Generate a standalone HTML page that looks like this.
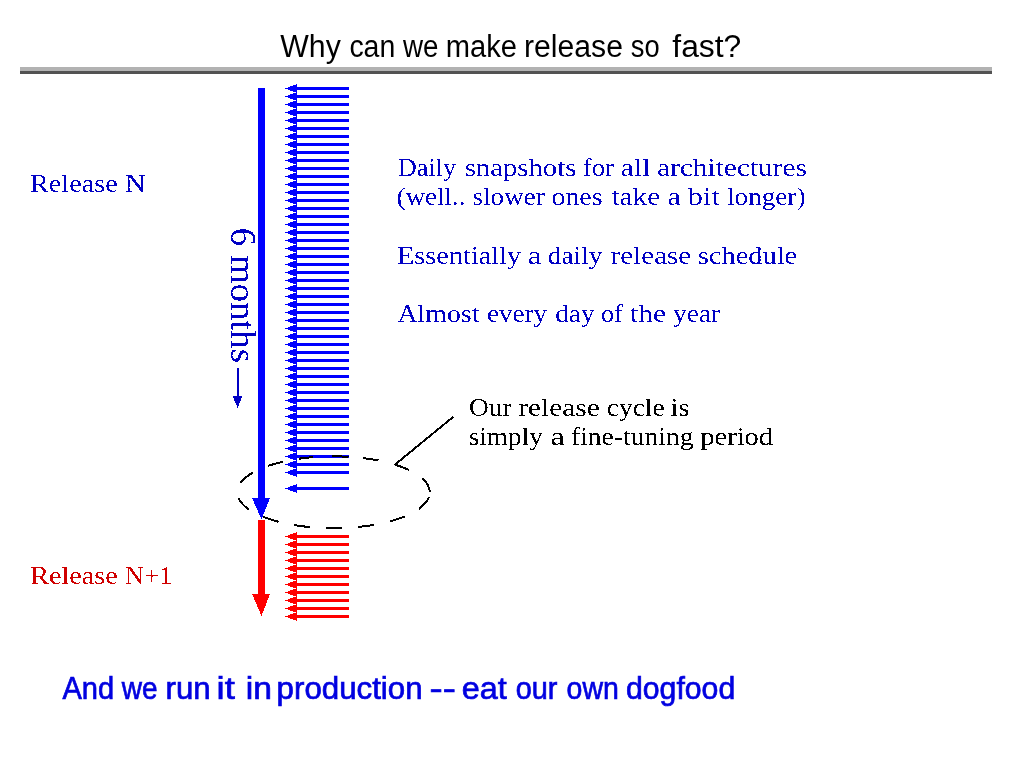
<!DOCTYPE html><html><head><meta charset="utf-8"><title>Why can we make release so fast?</title>
<style>html,body{margin:0;padding:0;background:#fff;width:1024px;height:768px;overflow:hidden}svg{display:block}</style></head><body>
<svg width="1024" height="768" viewBox="0 0 1024 768" shape-rendering="crispEdges">
<rect x="20" y="67" width="972" height="4" fill="#b2b2b2"/>
<rect x="20" y="71" width="972" height="3" fill="#525252"/>
<rect x="296" y="87.0" width="53" height="3" fill="#0000ff"/>
<polygon points="285,88.5 297,84.0 297,93.0" fill="#0000ff"/>
<rect x="296" y="95.0" width="53" height="3" fill="#0000ff"/>
<polygon points="285,96.5 297,92.0 297,101.0" fill="#0000ff"/>
<rect x="296" y="103.0" width="53" height="3" fill="#0000ff"/>
<polygon points="285,104.5 297,100.0 297,109.0" fill="#0000ff"/>
<rect x="296" y="111.0" width="53" height="3" fill="#0000ff"/>
<polygon points="285,112.5 297,108.0 297,117.0" fill="#0000ff"/>
<rect x="296" y="119.0" width="53" height="3" fill="#0000ff"/>
<polygon points="285,120.5 297,116.0 297,125.0" fill="#0000ff"/>
<rect x="296" y="127.0" width="53" height="3" fill="#0000ff"/>
<polygon points="285,128.5 297,124.0 297,133.0" fill="#0000ff"/>
<rect x="296" y="135.0" width="53" height="3" fill="#0000ff"/>
<polygon points="285,136.5 297,132.0 297,141.0" fill="#0000ff"/>
<rect x="296" y="143.0" width="53" height="3" fill="#0000ff"/>
<polygon points="285,144.5 297,140.0 297,149.0" fill="#0000ff"/>
<rect x="296" y="151.0" width="53" height="3" fill="#0000ff"/>
<polygon points="285,152.5 297,148.0 297,157.0" fill="#0000ff"/>
<rect x="296" y="159.0" width="53" height="3" fill="#0000ff"/>
<polygon points="285,160.5 297,156.0 297,165.0" fill="#0000ff"/>
<rect x="296" y="167.0" width="53" height="3" fill="#0000ff"/>
<polygon points="285,168.5 297,164.0 297,173.0" fill="#0000ff"/>
<rect x="296" y="175.0" width="53" height="3" fill="#0000ff"/>
<polygon points="285,176.5 297,172.0 297,181.0" fill="#0000ff"/>
<rect x="296" y="183.0" width="53" height="3" fill="#0000ff"/>
<polygon points="285,184.5 297,180.0 297,189.0" fill="#0000ff"/>
<rect x="296" y="191.0" width="53" height="3" fill="#0000ff"/>
<polygon points="285,192.5 297,188.0 297,197.0" fill="#0000ff"/>
<rect x="296" y="199.0" width="53" height="3" fill="#0000ff"/>
<polygon points="285,200.5 297,196.0 297,205.0" fill="#0000ff"/>
<rect x="296" y="207.0" width="53" height="3" fill="#0000ff"/>
<polygon points="285,208.5 297,204.0 297,213.0" fill="#0000ff"/>
<rect x="296" y="215.0" width="53" height="3" fill="#0000ff"/>
<polygon points="285,216.5 297,212.0 297,221.0" fill="#0000ff"/>
<rect x="296" y="223.0" width="53" height="3" fill="#0000ff"/>
<polygon points="285,224.5 297,220.0 297,229.0" fill="#0000ff"/>
<rect x="296" y="231.0" width="53" height="3" fill="#0000ff"/>
<polygon points="285,232.5 297,228.0 297,237.0" fill="#0000ff"/>
<rect x="296" y="239.0" width="53" height="3" fill="#0000ff"/>
<polygon points="285,240.5 297,236.0 297,245.0" fill="#0000ff"/>
<rect x="296" y="247.0" width="53" height="3" fill="#0000ff"/>
<polygon points="285,248.5 297,244.0 297,253.0" fill="#0000ff"/>
<rect x="296" y="255.0" width="53" height="3" fill="#0000ff"/>
<polygon points="285,256.5 297,252.0 297,261.0" fill="#0000ff"/>
<rect x="296" y="263.0" width="53" height="3" fill="#0000ff"/>
<polygon points="285,264.5 297,260.0 297,269.0" fill="#0000ff"/>
<rect x="296" y="271.0" width="53" height="3" fill="#0000ff"/>
<polygon points="285,272.5 297,268.0 297,277.0" fill="#0000ff"/>
<rect x="296" y="279.0" width="53" height="3" fill="#0000ff"/>
<polygon points="285,280.5 297,276.0 297,285.0" fill="#0000ff"/>
<rect x="296" y="287.0" width="53" height="3" fill="#0000ff"/>
<polygon points="285,288.5 297,284.0 297,293.0" fill="#0000ff"/>
<rect x="296" y="295.0" width="53" height="3" fill="#0000ff"/>
<polygon points="285,296.5 297,292.0 297,301.0" fill="#0000ff"/>
<rect x="296" y="303.0" width="53" height="3" fill="#0000ff"/>
<polygon points="285,304.5 297,300.0 297,309.0" fill="#0000ff"/>
<rect x="296" y="311.0" width="53" height="3" fill="#0000ff"/>
<polygon points="285,312.5 297,308.0 297,317.0" fill="#0000ff"/>
<rect x="296" y="319.0" width="53" height="3" fill="#0000ff"/>
<polygon points="285,320.5 297,316.0 297,325.0" fill="#0000ff"/>
<rect x="296" y="327.0" width="53" height="3" fill="#0000ff"/>
<polygon points="285,328.5 297,324.0 297,333.0" fill="#0000ff"/>
<rect x="296" y="335.0" width="53" height="3" fill="#0000ff"/>
<polygon points="285,336.5 297,332.0 297,341.0" fill="#0000ff"/>
<rect x="296" y="343.0" width="53" height="3" fill="#0000ff"/>
<polygon points="285,344.5 297,340.0 297,349.0" fill="#0000ff"/>
<rect x="296" y="351.0" width="53" height="3" fill="#0000ff"/>
<polygon points="285,352.5 297,348.0 297,357.0" fill="#0000ff"/>
<rect x="296" y="359.0" width="53" height="3" fill="#0000ff"/>
<polygon points="285,360.5 297,356.0 297,365.0" fill="#0000ff"/>
<rect x="296" y="367.0" width="53" height="3" fill="#0000ff"/>
<polygon points="285,368.5 297,364.0 297,373.0" fill="#0000ff"/>
<rect x="296" y="375.0" width="53" height="3" fill="#0000ff"/>
<polygon points="285,376.5 297,372.0 297,381.0" fill="#0000ff"/>
<rect x="296" y="383.0" width="53" height="3" fill="#0000ff"/>
<polygon points="285,384.5 297,380.0 297,389.0" fill="#0000ff"/>
<rect x="296" y="391.0" width="53" height="3" fill="#0000ff"/>
<polygon points="285,392.5 297,388.0 297,397.0" fill="#0000ff"/>
<rect x="296" y="399.0" width="53" height="3" fill="#0000ff"/>
<polygon points="285,400.5 297,396.0 297,405.0" fill="#0000ff"/>
<rect x="296" y="407.0" width="53" height="3" fill="#0000ff"/>
<polygon points="285,408.5 297,404.0 297,413.0" fill="#0000ff"/>
<rect x="296" y="415.0" width="53" height="3" fill="#0000ff"/>
<polygon points="285,416.5 297,412.0 297,421.0" fill="#0000ff"/>
<rect x="296" y="423.0" width="53" height="3" fill="#0000ff"/>
<polygon points="285,424.5 297,420.0 297,429.0" fill="#0000ff"/>
<rect x="296" y="431.0" width="53" height="3" fill="#0000ff"/>
<polygon points="285,432.5 297,428.0 297,437.0" fill="#0000ff"/>
<rect x="296" y="439.0" width="53" height="3" fill="#0000ff"/>
<polygon points="285,440.5 297,436.0 297,445.0" fill="#0000ff"/>
<rect x="296" y="447.0" width="53" height="3" fill="#0000ff"/>
<polygon points="285,448.5 297,444.0 297,453.0" fill="#0000ff"/>
<rect x="296" y="455.0" width="53" height="3" fill="#0000ff"/>
<polygon points="285,456.5 297,452.0 297,461.0" fill="#0000ff"/>
<rect x="296" y="463.0" width="53" height="3" fill="#0000ff"/>
<polygon points="285,464.5 297,460.0 297,469.0" fill="#0000ff"/>
<rect x="296" y="471.0" width="53" height="3" fill="#0000ff"/>
<polygon points="285,472.5 297,468.0 297,477.0" fill="#0000ff"/>
<rect x="296" y="487.0" width="53" height="3" fill="#0000ff"/>
<polygon points="285,488.5 297,484.0 297,493.0" fill="#0000ff"/>
<rect x="296" y="535.0" width="53" height="3" fill="#ff0000"/>
<polygon points="285,536.5 297,532.0 297,541.0" fill="#ff0000"/>
<rect x="296" y="543.0" width="53" height="3" fill="#ff0000"/>
<polygon points="285,544.5 297,540.0 297,549.0" fill="#ff0000"/>
<rect x="296" y="551.0" width="53" height="3" fill="#ff0000"/>
<polygon points="285,552.5 297,548.0 297,557.0" fill="#ff0000"/>
<rect x="296" y="559.0" width="53" height="3" fill="#ff0000"/>
<polygon points="285,560.5 297,556.0 297,565.0" fill="#ff0000"/>
<rect x="296" y="567.0" width="53" height="3" fill="#ff0000"/>
<polygon points="285,568.5 297,564.0 297,573.0" fill="#ff0000"/>
<rect x="296" y="575.0" width="53" height="3" fill="#ff0000"/>
<polygon points="285,576.5 297,572.0 297,581.0" fill="#ff0000"/>
<rect x="296" y="583.0" width="53" height="3" fill="#ff0000"/>
<polygon points="285,584.5 297,580.0 297,589.0" fill="#ff0000"/>
<rect x="296" y="591.0" width="53" height="3" fill="#ff0000"/>
<polygon points="285,592.5 297,588.0 297,597.0" fill="#ff0000"/>
<rect x="296" y="599.0" width="53" height="3" fill="#ff0000"/>
<polygon points="285,600.5 297,596.0 297,605.0" fill="#ff0000"/>
<rect x="296" y="607.0" width="53" height="3" fill="#ff0000"/>
<polygon points="285,608.5 297,604.0 297,613.0" fill="#ff0000"/>
<rect x="296" y="615.0" width="53" height="3" fill="#ff0000"/>
<polygon points="285,616.5 297,612.0 297,621.0" fill="#ff0000"/>
<rect x="258" y="88" width="7" height="411" fill="#0000ff"/>
<polygon points="252,498 270,498 261.5,519.5" fill="#0000ff"/>
<rect x="258" y="520" width="7" height="75" fill="#ff0000"/>
<polygon points="252,594 270,594 261.5,616" fill="#ff0000"/>
<rect x="236.7" y="368" width="2" height="30" fill="#0000c4"/>
<polygon points="232.5,396 242.5,396 237.7,408" fill="#0000c4"/>
<path d="M395.12 464.67A96.29 35.94 0 0 1 409.17 470.06M422.28 478.39A96.29 35.94 0 0 1 429.74 491.90M428.85 497.18A96.29 35.94 0 0 1 418.80 508.92M404.59 516.50A96.29 35.94 0 0 1 389.77 521.42M373.70 524.92A96.29 35.94 0 0 1 358.02 527.02M342.21 528.06A96.29 35.94 0 0 1 326.28 528.11M309.92 527.12A96.29 35.94 0 0 1 294.36 525.11M278.58 521.80A96.29 35.94 0 0 1 263.03 516.78M248.90 509.46A96.29 35.94 0 0 1 238.58 498.39M240.39 483.05A96.29 35.94 0 0 1 253.10 472.47M268.09 465.88A96.29 35.94 0 0 1 282.95 461.67M299.36 458.66A96.29 35.94 0 0 1 312.86 457.16M331.58 456.34A96.29 35.94 0 0 1 348.49 456.77M362.82 458.04A96.29 35.94 0 0 1 378.36 460.48" fill="none" stroke="#000" stroke-width="2"/>
<line x1="394.6" y1="464.9" x2="453.4" y2="416.7" stroke="#000" stroke-width="2"/>
<defs><filter id="bin" x="0" y="0" width="1024" height="768" filterUnits="userSpaceOnUse"><feComponentTransfer><feFuncA type="discrete" tableValues="0 1"/></feComponentTransfer></filter></defs>
<defs><filter id="gray" x="0" y="0" width="1024" height="768" filterUnits="userSpaceOnUse"><feOffset dx="0" dy="0"/></filter><filter id="bin2" x="0" y="0" width="1024" height="768" filterUnits="userSpaceOnUse"><feComponentTransfer><feFuncA type="discrete" tableValues="0 1"/></feComponentTransfer></filter></defs>
<g filter="url(#gray)">
<text x="280.3" y="56.7" textLength="60.5" lengthAdjust="spacingAndGlyphs" style="font-family:'Liberation Sans', sans-serif;font-size:31px" fill="#000">Why</text>
<text x="349.38" y="56.7" textLength="45.94" lengthAdjust="spacingAndGlyphs" style="font-family:'Liberation Sans', sans-serif;font-size:31px" fill="#000">can</text>
<text x="403.0" y="56.7" textLength="35.47" lengthAdjust="spacingAndGlyphs" style="font-family:'Liberation Sans', sans-serif;font-size:31px" fill="#000">we</text>
<text x="445.72" y="56.7" textLength="71.24" lengthAdjust="spacingAndGlyphs" style="font-family:'Liberation Sans', sans-serif;font-size:31px" fill="#000">make</text>
<text x="524.05" y="56.7" textLength="98.91" lengthAdjust="spacingAndGlyphs" style="font-family:'Liberation Sans', sans-serif;font-size:31px" fill="#000">release</text>
<text x="630.82" y="56.7" textLength="28.84" lengthAdjust="spacingAndGlyphs" style="font-family:'Liberation Sans', sans-serif;font-size:31px" fill="#000">so</text>
<text x="672.3" y="56.7" textLength="69.05" lengthAdjust="spacingAndGlyphs" style="font-family:'Liberation Sans', sans-serif;font-size:31px" fill="#000">fast?</text>
<text x="62.4" y="699.4" textLength="51.74" lengthAdjust="spacingAndGlyphs" style="font-family:'Liberation Sans', sans-serif;font-size:31px" fill="#0000e0" stroke="#0000e0" stroke-width="0.7">And</text>
<text x="121.8" y="699.4" textLength="35.78" lengthAdjust="spacingAndGlyphs" style="font-family:'Liberation Sans', sans-serif;font-size:31px" fill="#0000e0" stroke="#0000e0" stroke-width="0.7">we</text>
<text x="165.49" y="699.4" textLength="45.14" lengthAdjust="spacingAndGlyphs" style="font-family:'Liberation Sans', sans-serif;font-size:31px" fill="#0000e0" stroke="#0000e0" stroke-width="0.7">run</text>
<text x="216.54" y="699.4" textLength="18.27" lengthAdjust="spacingAndGlyphs" style="font-family:'Liberation Sans', sans-serif;font-size:31px" fill="#0000e0" stroke="#0000e0" stroke-width="0.7">it</text>
<text x="245.83" y="699.4" textLength="26.19" lengthAdjust="spacingAndGlyphs" style="font-family:'Liberation Sans', sans-serif;font-size:31px" fill="#0000e0" stroke="#0000e0" stroke-width="0.7">in</text>
<text x="276.58" y="699.4" textLength="146.01" lengthAdjust="spacingAndGlyphs" style="font-family:'Liberation Sans', sans-serif;font-size:31px" fill="#0000e0" stroke="#0000e0" stroke-width="0.7">production</text>
<text x="429.63" y="699.4" textLength="26.28" lengthAdjust="spacingAndGlyphs" style="font-family:'Liberation Sans', sans-serif;font-size:31px" fill="#0000e0" stroke="#0000e0" stroke-width="0.7">--</text>
<text x="461.65" y="699.4" textLength="45.06" lengthAdjust="spacingAndGlyphs" style="font-family:'Liberation Sans', sans-serif;font-size:31px" fill="#0000e0" stroke="#0000e0" stroke-width="0.7">eat</text>
<text x="515.67" y="699.4" textLength="41.76" lengthAdjust="spacingAndGlyphs" style="font-family:'Liberation Sans', sans-serif;font-size:31px" fill="#0000e0" stroke="#0000e0" stroke-width="0.7">our</text>
<text x="566.58" y="699.4" textLength="52.14" lengthAdjust="spacingAndGlyphs" style="font-family:'Liberation Sans', sans-serif;font-size:31px" fill="#0000e0" stroke="#0000e0" stroke-width="0.7">own</text>
<text x="626.03" y="699.4" textLength="109.18" lengthAdjust="spacingAndGlyphs" style="font-family:'Liberation Sans', sans-serif;font-size:31px" fill="#0000e0" stroke="#0000e0" stroke-width="0.7">dogfood</text>
</g>
<g filter="url(#bin2)">
<text x="30.17" y="583.9" textLength="87.55" lengthAdjust="spacingAndGlyphs" style="font-family:'Liberation Serif', serif;font-size:26px" fill="#d00000">Release</text>
<text x="124.87" y="583.9" textLength="47.72" lengthAdjust="spacingAndGlyphs" style="font-family:'Liberation Serif', serif;font-size:26px" fill="#d00000">N+1</text>
</g>
<g filter="url(#bin)">
<text x="30.02" y="191.9" textLength="87.7" lengthAdjust="spacingAndGlyphs" style="font-family:'Liberation Serif', serif;font-size:26px" fill="#0000c4">Release</text>
<text x="124.78" y="191.9" textLength="20.99" lengthAdjust="spacingAndGlyphs" style="font-family:'Liberation Serif', serif;font-size:26px" fill="#0000c4">N</text>
<text x="397.69" y="175.5" textLength="58.58" lengthAdjust="spacingAndGlyphs" style="font-family:'Liberation Serif', serif;font-size:26px" fill="#0000c4">Daily</text>
<text x="464.7" y="175.5" textLength="111.65" lengthAdjust="spacingAndGlyphs" style="font-family:'Liberation Serif', serif;font-size:26px" fill="#0000c4">snapshots</text>
<text x="582.87" y="175.5" textLength="31.16" lengthAdjust="spacingAndGlyphs" style="font-family:'Liberation Serif', serif;font-size:26px" fill="#0000c4">for</text>
<text x="620.86" y="175.5" textLength="29.57" lengthAdjust="spacingAndGlyphs" style="font-family:'Liberation Serif', serif;font-size:26px" fill="#0000c4">all</text>
<text x="656.97" y="175.5" textLength="150.05" lengthAdjust="spacingAndGlyphs" style="font-family:'Liberation Serif', serif;font-size:26px" fill="#0000c4">architectures</text>
<text x="396.66" y="204.7" textLength="68.81" lengthAdjust="spacingAndGlyphs" style="font-family:'Liberation Serif', serif;font-size:26px" fill="#0000c4">(well..</text>
<text x="472.56" y="204.7" textLength="72.18" lengthAdjust="spacingAndGlyphs" style="font-family:'Liberation Serif', serif;font-size:26px" fill="#0000c4">slower</text>
<text x="551.53" y="204.7" textLength="50.99" lengthAdjust="spacingAndGlyphs" style="font-family:'Liberation Serif', serif;font-size:26px" fill="#0000c4">ones</text>
<text x="611.4" y="204.7" textLength="48.85" lengthAdjust="spacingAndGlyphs" style="font-family:'Liberation Serif', serif;font-size:26px" fill="#0000c4">take</text>
<text x="667.63" y="204.7" textLength="13.51" lengthAdjust="spacingAndGlyphs" style="font-family:'Liberation Serif', serif;font-size:26px" fill="#0000c4">a</text>
<text x="687.8" y="204.7" textLength="32.03" lengthAdjust="spacingAndGlyphs" style="font-family:'Liberation Serif', serif;font-size:26px" fill="#0000c4">bit</text>
<text x="727.06" y="204.7" textLength="78.39" lengthAdjust="spacingAndGlyphs" style="font-family:'Liberation Serif', serif;font-size:26px" fill="#0000c4">longer)</text>
<text x="397.11" y="263.6" textLength="123.99" lengthAdjust="spacingAndGlyphs" style="font-family:'Liberation Serif', serif;font-size:26px" fill="#0000c4">Essentially</text>
<text x="527.83" y="263.6" textLength="13.51" lengthAdjust="spacingAndGlyphs" style="font-family:'Liberation Serif', serif;font-size:26px" fill="#0000c4">a</text>
<text x="547.75" y="263.6" textLength="54.55" lengthAdjust="spacingAndGlyphs" style="font-family:'Liberation Serif', serif;font-size:26px" fill="#0000c4">daily</text>
<text x="610.68" y="263.6" textLength="80.52" lengthAdjust="spacingAndGlyphs" style="font-family:'Liberation Serif', serif;font-size:26px" fill="#0000c4">release</text>
<text x="697.71" y="263.6" textLength="99.55" lengthAdjust="spacingAndGlyphs" style="font-family:'Liberation Serif', serif;font-size:26px" fill="#0000c4">schedule</text>
<text x="397.5" y="321.5" textLength="81.92" lengthAdjust="spacingAndGlyphs" style="font-family:'Liberation Serif', serif;font-size:26px" fill="#0000c4">Almost</text>
<text x="486.96" y="321.5" textLength="60.18" lengthAdjust="spacingAndGlyphs" style="font-family:'Liberation Serif', serif;font-size:26px" fill="#0000c4">every</text>
<text x="555.15" y="321.5" textLength="39.42" lengthAdjust="spacingAndGlyphs" style="font-family:'Liberation Serif', serif;font-size:26px" fill="#0000c4">day</text>
<text x="600.9" y="321.5" textLength="21.78" lengthAdjust="spacingAndGlyphs" style="font-family:'Liberation Serif', serif;font-size:26px" fill="#0000c4">of</text>
<text x="630.0" y="321.5" textLength="35.97" lengthAdjust="spacingAndGlyphs" style="font-family:'Liberation Serif', serif;font-size:26px" fill="#0000c4">the</text>
<text x="673.0" y="321.5" textLength="47.24" lengthAdjust="spacingAndGlyphs" style="font-family:'Liberation Serif', serif;font-size:26px" fill="#0000c4">year</text>
<text x="468.95" y="415.5" textLength="42.61" lengthAdjust="spacingAndGlyphs" style="font-family:'Liberation Serif', serif;font-size:26px" fill="#000">Our</text>
<text x="518.17" y="415.5" textLength="81.55" lengthAdjust="spacingAndGlyphs" style="font-family:'Liberation Serif', serif;font-size:26px" fill="#000">release</text>
<text x="606.74" y="415.5" textLength="57.95" lengthAdjust="spacingAndGlyphs" style="font-family:'Liberation Serif', serif;font-size:26px" fill="#000">cycle</text>
<text x="670.51" y="415.5" textLength="18.97" lengthAdjust="spacingAndGlyphs" style="font-family:'Liberation Serif', serif;font-size:26px" fill="#000">is</text>
<text x="468.65" y="444.8" textLength="74.24" lengthAdjust="spacingAndGlyphs" style="font-family:'Liberation Serif', serif;font-size:26px" fill="#000">simply</text>
<text x="550.45" y="444.8" textLength="14.43" lengthAdjust="spacingAndGlyphs" style="font-family:'Liberation Serif', serif;font-size:26px" fill="#000">a</text>
<text x="570.94" y="444.8" textLength="122.63" lengthAdjust="spacingAndGlyphs" style="font-family:'Liberation Serif', serif;font-size:26px" fill="#000">fine-tuning</text>
<text x="700.2" y="444.8" textLength="72.96" lengthAdjust="spacingAndGlyphs" style="font-family:'Liberation Serif', serif;font-size:26px" fill="#000">period</text>
<g transform="translate(231.0,0) rotate(90)"><text x="227.75" y="0" textLength="135.34" lengthAdjust="spacingAndGlyphs" style="font-family:'Liberation Serif', serif;font-size:35px" fill="#0000c4">6 months</text></g>
</g>
</svg></body></html>
